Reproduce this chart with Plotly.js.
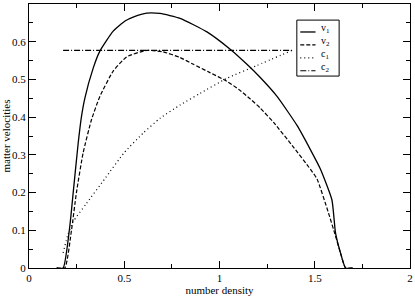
<!DOCTYPE html>
<html>
<head>
<meta charset="utf-8">
<script src="https://cdn.plot.ly/plotly-3.0.1.min.js"></script>
<style>html,body{margin:0;padding:0;background:#fff;}#chart{width:415px;height:296px;}</style>
</head>
<body>
<div id="chart"></div>
<script>
// number density (x) and matter velocities (y)
const v1X = [0.145, 0.179, 0.214, 0.232, 0.258, 0.275, 0.293, 0.337, 0.372, 0.442, 0.504, 0.55, 0.618, 0.688, 0.793, 0.934, 1.056, 1.144, 1.214, 1.302, 1.407, 1.477, 1.53, 1.59, 1.609, 1.635, 1.662, 1.70];
const v1Y = [0, 0, 0.11, 0.20, 0.33, 0.40, 0.45, 0.530, 0.575, 0.628, 0.655, 0.666, 0.676, 0.675, 0.662, 0.626, 0.580, 0.540, 0.505, 0.455, 0.378, 0.314, 0.262, 0.181, 0.093, 0.040, 0, 0];

const v2X = [0.145, 0.188, 0.223, 0.249, 0.284, 0.328, 0.372, 0.442, 0.513, 0.618, 0.705, 0.793, 0.863, 0.95, 1.039, 1.10, 1.162, 1.214, 1.284, 1.389, 1.477, 1.512, 1.572, 1.609, 1.635, 1.662, 1.70];
const v2Y = [0, 0, 0.10, 0.20, 0.305, 0.393, 0.455, 0.522, 0.560, 0.577, 0.573, 0.558, 0.540, 0.518, 0.495, 0.474, 0.448, 0.424, 0.386, 0.32, 0.262, 0.236, 0.146, 0.085, 0.04, 0, 0];

const c1X = [0.179, 0.205, 0.232, 0.30, 0.40, 0.50, 0.60, 0.688, 0.793, 0.898, 1.039, 1.197, 1.381];
const c1Y = [0.04, 0.09, 0.123, 0.17, 0.238, 0.306, 0.358, 0.397, 0.432, 0.463, 0.503, 0.537, 0.577];

const c2X = [0.179, 1.381];
const c2Y = [0.577, 0.577];

const names = ['v<sub>1</sub>', 'v<sub>2</sub>', 'c<sub>1</sub>', 'c<sub>2</sub>'];
const xTicks = [0, 0.5, 1, 1.5, 2];
const xTickText = ['0', '0.5', '1', '1.5', '2'];
const yTicks = [0, 0.1, 0.2, 0.3, 0.4, 0.5, 0.6];
const yTickText = ['0', '0.1', '0.2', '0.3', '0.4', '0.5', '0.6'];

const font = 'Liberation Serif, Times New Roman, serif';
const dashes = ['solid', '4px,2px', '1px,3px', '6px,2px,1px,2px'];
const widths = [1.3, 1.2, 1.2, 1.1];

const series = [[v1X, v1Y], [v2X, v2Y], [c1X, c1Y], [c2X, c2Y]];
const traces = series.map((s, i) => ({
  x: s[0], y: s[1], name: names[i], mode: 'lines', showlegend: false,
  line: {color: '#000', width: widths[i], dash: dashes[i], shape: i < 3 ? 'spline' : 'linear', smoothing: 0.5}
}));

// compact legend box (paper coordinates)
const legL = 0.703, legR = 0.814, legT = 0.939, legB = 0.727;
const rowY = [0.894, 0.845, 0.796, 0.747];
const shapes = [{type: 'rect', xref: 'paper', yref: 'paper', x0: legL, x1: legR, y0: legB, y1: legT,
  line: {color: '#000', width: 1}, fillcolor: '#fff', layer: 'above'}];
const annotations = [];
rowY.forEach((y, i) => {
  shapes.push({type: 'line', xref: 'paper', yref: 'paper', x0: 0.712, x1: 0.752, y0: y, y1: y,
    line: {color: '#000', width: widths[i], dash: dashes[i]}, layer: 'above'});
  annotations.push({xref: 'paper', yref: 'paper', x: 0.762, y: y + 0.012, xanchor: 'left', yanchor: 'middle',
    text: names[i], showarrow: false, font: {family: font, size: 10, color: '#000'}});
});

const axisBase = {
  showgrid: false, zeroline: false, showline: true, linecolor: '#000', linewidth: 1,
  mirror: 'ticks', ticks: 'inside', ticklen: 7, tickcolor: '#000', tickwidth: 1,
  tickfont: {family: font, size: 11, color: '#000'}, tickmode: 'array'
};

const layout = {
  width: 415, height: 296,
  margin: {l: 29, r: 5, t: 4, b: 28},
  paper_bgcolor: '#fff', plot_bgcolor: '#fff',
  showlegend: false,
  shapes: shapes, annotations: annotations,
  xaxis: Object.assign({}, axisBase, {
    range: [0, 2], tickvals: xTicks, ticktext: xTickText,
    minor: {ticks: 'inside', ticklen: 4, dtick: 0.25, tickcolor: '#000', showgrid: false},
    title: {text: 'number density', font: {family: font, size: 11, color: '#000'}, standoff: 2}
  }),
  yaxis: Object.assign({}, axisBase, {
    range: [0, 0.7], tickvals: yTicks, ticktext: yTickText,
    minor: {ticks: 'inside', ticklen: 4, dtick: 0.05, tickcolor: '#000', showgrid: false},
    title: {text: 'matter velocities', font: {family: font, size: 11, color: '#000'}, standoff: 2}
  })
};

Plotly.newPlot('chart', traces, layout, {staticPlot: true, displayModeBar: false});
</script>
</body>
</html>
